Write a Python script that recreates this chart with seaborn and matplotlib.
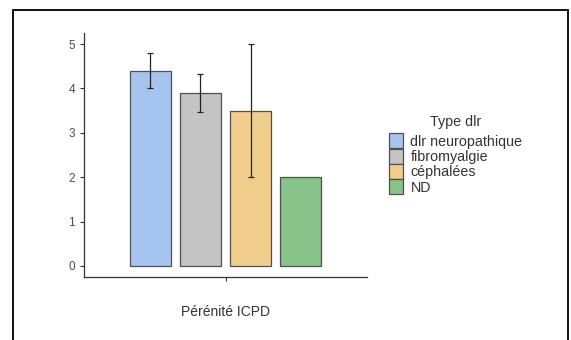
import matplotlib
matplotlib.use("Agg")
import matplotlib.pyplot as plt
import seaborn as sns
import pandas as pd
from matplotlib.patches import Rectangle

categories = ["dlr neuropathique", "fibromyalgie", "céphalées", "ND"]
means = [4.4, 3.9, 3.5, 2.0]
err_low = [4.0, 3.47, 2.0, None]
err_high = [4.8, 4.33, 5.0, None]
group = ["Pérénité ICPD"] * 4
yticks = [0, 1, 2, 3, 4, 5]
colors = ["#a6c4f0", "#c4c4c4", "#f0cd8c", "#88c48a"]

sns.set_theme(style="white")
plt.rcParams["font.family"] = ["Liberation Sans", "DejaVu Sans"]

df = pd.DataFrame({"grp": group, "Type dlr": categories, "val": means})

fig = plt.figure(figsize=(5.71, 3.40), dpi=100)
ax = fig.add_axes([84/571, 1-277/340, (367-84)/571, (277-33)/340])

sns.barplot(data=df, x="grp", y="val", hue="Type dlr", hue_order=categories,
            palette=colors, saturation=1, width=0.85, gap=0.18, edgecolor="#505050",
            linewidth=0.9, errorbar=None, ax=ax, legend=True)

# error bars positioned from bar patches
bars = [c.patches[0] for c in ax.containers]
for b, m, lo, hi in zip(bars, means, err_low, err_high):
    if lo is None:
        continue
    xc = b.get_x() + b.get_width() / 2
    ax.errorbar([xc], [m], yerr=[[m - lo], [hi - m]], fmt="none",
                ecolor="#222222", elinewidth=0.9, capsize=2.5, capthick=0.9, zorder=5)

ax.set_xlim(-0.6, 0.6)
ax.set_ylim(-0.25, 5.25)
ax.set_yticks(yticks)
ax.set_yticklabels([str(t) for t in yticks])
ax.set_xticks([0])
ax.set_xticklabels([""])
ax.set_xlabel("Pérénité ICPD", fontsize=10, color="#333333", labelpad=14)
ax.set_ylabel("")
for s in ["top", "right"]:
    ax.spines[s].set_visible(False)
for s in ["left", "bottom"]:
    ax.spines[s].set_color("#333333")
    ax.spines[s].set_linewidth(0.9)
ax.tick_params(axis="both", which="both", direction="out", length=3, width=0.8,
               color="#333333", labelsize=8.5, labelcolor="#4d4d4d", left=True, bottom=True)

handles, labels = ax.get_legend_handles_labels()
ax.get_legend().remove()
leg = fig.legend(handles, labels, title="Type dlr", loc="upper left",
                 bbox_to_anchor=(379/571, 1-105/340), frameon=False,
                 fontsize=10.3, title_fontsize=10.3, handlelength=1.0,
                 handleheight=1.25, labelspacing=0.0, handletextpad=0.5,
                 borderpad=0.2)
leg._legend_box.sep = 3
leg.get_title().set_color("#333333")
for t in leg.get_texts():
    t.set_color("#333333")

# outer black frame
fig.patches.append(Rectangle((13/571, -0.1), (568-13)/571, 1.1 - 10/340,
                             transform=fig.transFigure, fill=False,
                             edgecolor="black", linewidth=1.3))

fig.savefig("out.png", dpi=100)
